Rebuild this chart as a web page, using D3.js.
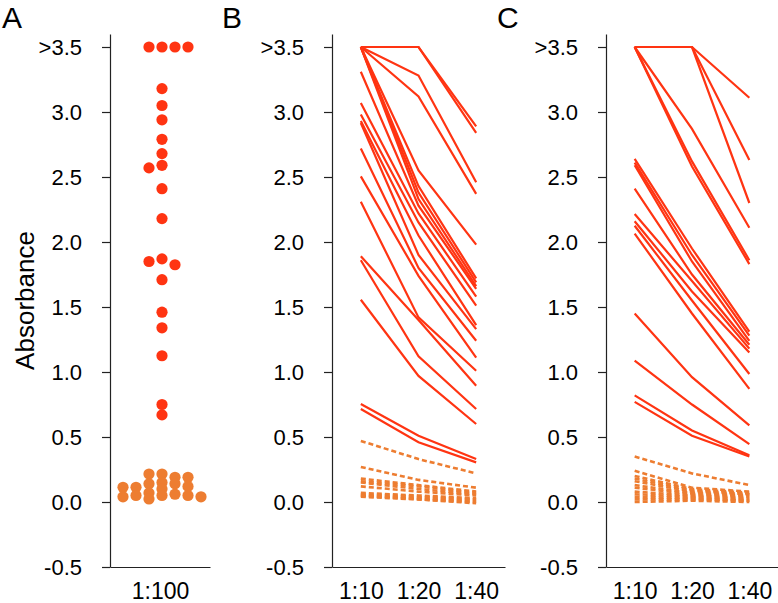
<!DOCTYPE html>
<html>
<head>
<meta charset="utf-8">
<script src="https://cdn.jsdelivr.net/npm/d3@7"></script>
<style>
  body { margin: 0; background: #fff; }
  svg { display: block; font-family: "Liberation Sans", Arial, sans-serif; }
</style>
</head>
<body>
<div id="chart"></div>
<script>
// tick values shared by all three panels
const yTicks = [-0.5, 0, 0.5, 1, 1.5, 2, 2.5, 3, 3.5];
const dilutionA = ['1:100'];
const dilutions = ['1:10', '1:20', '1:40'];

// panel A: single dilution, positive (red) and negative (orange) samples
const posA = [3.5, 3.5, 3.5, 3.5, 3.18, 3.05, 2.94, 2.79, 2.68, 2.59, 2.57, 2.41, 2.18,
  1.87, 1.85, 1.825, 1.71, 1.46, 1.34, 1.125, 0.75, 0.67];
const negA = [0.215, 0.215, 0.19, 0.19, 0.15, 0.14, 0.14, 0.12, 0.113, 0.113, 0.1,
  0.07, 0.06, 0.05, 0.05, 0.05, 0.04, 0.04, 0.023];

// panel B: titration 1:10, 1:20, 1:40
const posB = [
  [3.5, 3.5, 2.89], [3.5, 3.5, 2.84], [3.5, 3.28, 2.46], [3.5, 3.12, 2.37],
  [3.5, 2.55, 1.98], [3.5, 2.43, 1.72], [3.5, 2.38, 1.69], [3.5, 2.33, 1.66],
  [3.31, 2.28, 1.64], [3.07, 2.22, 1.58], [2.98, 2.15, 1.51], [2.93, 2.05, 1.36],
  [2.915, 1.9, 1.33], [2.72, 1.8, 1.24], [2.505, 1.74, 1.11], [2.31, 1.42, 1.01],
  [1.89, 1.4, 0.895], [1.86, 1.12, 0.715], [1.556, 0.97, 0.6],
  [0.754, 0.51, 0.33], [0.715, 0.46, 0.305]
];
const negB = [
  [0.47, 0.33, 0.22], [0.27, 0.17, 0.11], [0.18, 0.13, 0.08], [0.16, 0.12, 0.07],
  [0.15, 0.1, 0.06], [0.12, 0.08, 0.05], [0.07, 0.05, 0.03], [0.06, 0.04, 0.02],
  [0.05, 0.03, 0.01], [0.04, 0.02, 0.0], [0.05, 0.02, -0.01]
];

// panel C: titration 1:10, 1:20, 1:40
const posC = [
  [3.5, 3.5, 3.11], [3.5, 3.5, 2.63], [3.5, 3.5, 2.3], [3.5, 2.87, 2.11],
  [3.5, 2.62, 1.86], [3.5, 2.58, 1.83],
  [2.64, 1.95, 1.31], [2.61, 1.9, 1.28], [2.59, 1.85, 1.24], [2.41, 1.75, 1.21],
  [2.215, 1.7, 1.18], [2.16, 1.62, 1.15], [2.125, 1.55, 0.985], [2.065, 1.45, 0.87],
  [1.45, 0.96, 0.59], [1.087, 0.75, 0.445], [0.82, 0.55, 0.36], [0.77, 0.51, 0.35]
];
const negC = [
  [0.35, 0.22, 0.13], [0.24, 0.11, 0.08], [0.2, 0.1, 0.07], [0.18, 0.09, 0.06],
  [0.16, 0.08, 0.06], [0.13, 0.07, 0.05], [0.11, 0.06, 0.04], [0.08, 0.05, 0.03],
  [0.06, 0.04, 0.02], [0.04, 0.03, 0.01], [0.02, 0.02, 0.01], [0.0, 0.01, 0.0]
];

const RED = '#ff3412';
const ORANGE = '#ed7d31';

const width = 778;
const height = 603;

const svg = d3.select('#chart')
  .append('svg')
  .attr('width', width)
  .attr('height', height);

// same vertical scale for every panel
const y = d3.scaleLinear().domain([-0.5, 3.6]).range([567, 34]);

const fmt = (d) => (d === 3.5 ? '>3.5' : d3.format('.1f')(d).replace('−', '-'));

const drawFrame = (axisX, axisEnd, domain, letter, letterX) => {
  const x = d3.scalePoint().domain(domain).range([axisX, axisEnd]).padding(0.5);
  const g = svg.append('g');

  const yAxis = g.append('g')
    .attr('transform', `translate(${axisX},0)`)
    .call(d3.axisLeft(y).tickValues(yTicks).tickFormat(fmt)
      .tickSize(8).tickSizeOuter(0).tickPadding(20));
  yAxis.selectAll('text').attr('font-size', 22);

  const xAxis = g.append('g')
    .attr('transform', `translate(0,${y(-0.5)})`)
    .call(d3.axisBottom(x).tickSize(0).tickSizeOuter(0).tickPadding(16));
  xAxis.selectAll('text').attr('font-size', 23);

  [yAxis, xAxis].forEach((a) => {
    a.selectAll('text').attr('fill', '#000')
      .attr('font-family', '"Liberation Sans", Arial, sans-serif');
    a.selectAll('path, line').attr('stroke', '#222').attr('stroke-width', 1.2);
  });

  g.append('text')
    .attr('x', letterX)
    .attr('y', 28)
    .attr('font-size', 30)
    .text(letter);

  return { g, x };
};

// ---- panel A ----
const frameA = drawFrame(110, 210, dilutionA, 'A', 2);

svg.append('text')
  .attr('transform', `translate(34,${y(1.55)}) rotate(-90)`)
  .attr('text-anchor', 'middle')
  .attr('font-size', 26)
  .text('Absorbance');

// column scatter: each dot takes the nearest free column around the centre
const colStep = 13;
const minGap = 6;
const order = [0, -1, 1, 2, -2, -3, 3, 4, -4];
const swarm = (values, colour) => values
  .map((v) => ({ v, colour }))
  .sort((a, b) => b.v - a.v);

const dots = swarm(posA, RED).concat(swarm(negA, ORANGE));
const placed = [];
dots.forEach((d) => {
  d.cy = y(d.v);
  d.col = order.find((c) => !placed.some((p) => p.col === c && Math.abs(p.cy - d.cy) < minGap));
  placed.push(d);
});

const cx = frameA.x('1:100') + 2;
frameA.g.selectAll('circle')
  .data(dots)
  .enter()
  .append('circle')
  .attr('cx', (d) => cx + d.col * colStep)
  .attr('cy', (d) => d.cy)
  .attr('r', 5.6)
  .attr('fill', (d) => d.colour);

// ---- panels B and C ----
const drawLines = (frame, pos, neg) => {
  const line = d3.line()
    .x((d, i) => frame.x(dilutions[i]))
    .y((d) => y(d));

  frame.g.selectAll('.neg')
    .data(neg)
    .enter()
    .append('path')
    .attr('class', 'neg')
    .attr('d', line)
    .attr('fill', 'none')
    .attr('stroke', ORANGE)
    .attr('stroke-width', 2.6)
    .attr('stroke-dasharray', '5,3');

  frame.g.selectAll('.pos')
    .data(pos)
    .enter()
    .append('path')
    .attr('class', 'pos')
    .attr('d', line)
    .attr('fill', 'none')
    .attr('stroke', RED)
    .attr('stroke-width', 2.2);
};

const frameB = drawFrame(332, 505, dilutions, 'B', 222);
drawLines(frameB, posB, negB);

const frameC = drawFrame(606, 778, dilutions, 'C', 497);
drawLines(frameC, posC, negC);
</script>
</body>
</html>
